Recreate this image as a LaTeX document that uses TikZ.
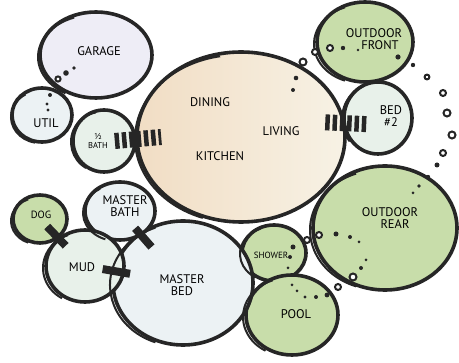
\documentclass[tikz,border=0pt]{standalone}
\usepackage{fontspec}
\setmainfont{PT Sans}
\usetikzlibrary{shapes.geometric,calc}
\definecolor{ink}{HTML}{262626}
\definecolor{cream}{HTML}{F7F2E5}
\definecolor{peach}{HTML}{F1DDC4}
\definecolor{grn}{HTML}{C8DDAA}
\definecolor{lav}{HTML}{EEEDF6}
\definecolor{paleb}{HTML}{ECF2F4}
\definecolor{paleg}{HTML}{E8F1EA}
\tikzset{
  bubble/.style={ellipse, draw=ink, line width=3.6pt, inner sep=0pt},
  sketch/.style={draw=ink, line width=2pt},
  lab/.style={font=\fontsize{12.5}{12}\selectfont, text=black, align=center, inner sep=0pt},
  smalllab/.style={font=\fontsize{8.5}{9.5}\selectfont, text=black, align=center, inner sep=0pt},
  bar/.style={draw=ink, line width=8pt},
  hatch/.style={draw=ink, line width=16pt, dash pattern=on 4.5pt off 2.8pt},
  dotf/.style={fill=ink},
  ringd/.style={draw=ink, fill=white, line width=2pt}
}
\begin{document}
\begin{tikzpicture}[x=1pt,y=-1pt]
\useasboundingbox (0,0) rectangle (459,363);
% main room first
\node[bubble, left color=peach, middle color=cream, right color=cream, minimum width=208pt, minimum height=170pt] (main) at (241,137) {};
\foreach \n/\x/\y/\rx/\ry/\c in {
  garage/96/55/56/43/lav,
  util/42/115/30/27/paleb,
  hbath/104/141/31/31/paleg,
  ofront/365/42/48/40/grn,
  bed2/378/118/34/36/paleg,
  orear/385/228/72/62/grn,
  shower/274/253/32/28/grn,
  pool/292/315/46/40/grn,
  mbed/183/283/70/62/paleb,
  mbath/120/211/35/29/paleb,
  mud/85/266/39/36/paleg,
  dog/40/219/27/24/grn}
{
  \node[bubble, fill=\c, minimum width={(2*\rx)*1pt}, minimum height={(2*\ry)*1pt}] (\n) at (\x,\y) {};
}
% sketchy second strokes
\foreach \n/\dx/\dy/\rx/\ry/\a/\b in {
  main/-3/2/103/84/110/260,
  garage/-3/2/55/42/120/250,
  util/-2/2/29/26/100/240,
  hbath/-3/1/30/30/120/260,
  ofront/-4/2/47/39/110/250,
  bed2/-3/1/33/35/140/250,
  orear/-5/2/70/60/110/250,
  shower/-3/1/31/27/120/250,
  pool/-4/2/45/39/120/250,
  mbed/-4/2/69/61/110/250,
  mbath/-3/2/34/28/110/240,
  mud/-4/2/38/35/120/250,
  dog/-3/2/26/23/110/250}
{
  \draw[sketch] ([shift={(\dx,\dy)}]\n.center) ++({\rx*cos(\a)},{\ry*sin(\a)}) arc[start angle=\a, end angle=\b, x radius=\rx, y radius=\ry];
}
% labels
\node[lab] (tgarage) at (99,51) {GARAGE};
\node[lab] (tutil) at (46,123) {UTIL};
\node[smalllab] (thbath) at (98,141) {½\\BATH};
\node[lab] (tdining) at (210,102) {DINING};
\node[lab] (tliving) at (281,131) {LIVING};
\node[lab] (tkitchen) at (220,156) {KITCHEN};
\node[lab] (tofront) at (374,39) {OUTDOOR\\\hspace*{12pt}FRONT};
\node[lab] (tbed2) at (391,116) {BED\\\#2};
\node[lab] (torear) at (390,218) {OUTDOOR\\\hspace*{10pt}REAR};
\node[smalllab, font=\fontsize{9}{10}\selectfont] (tshower) at (271,255) {SHOWER};
\node[lab] (tpool) at (296,314) {POOL};
\node[lab] (tmbed) at (182,285) {MASTER\\BED};
\node[lab] (tmbath) at (125,206) {MASTER\\BATH};
\node[lab] (tmud) at (82,267) {MUD};
\node[smalllab, font=\fontsize{10.5}{11}\selectfont] (tdog) at (41,215) {DOG};
% direct adjacency: bars
\draw[bar] ($(mbath.center)!0.24!(mbed.center)$) -- ($(mbath.center)!0.5!(mbed.center)$);
\draw[bar] ($(mud.center)!0.18!(mbed.center)$) -- ($(mud.center)!0.46!(mbed.center)$);
\draw[bar] ($(dog.center)!0.16!(mud.center)$) -- ($(dog.center)!0.57!(mud.center)$);
% hatched adjacencies
\draw[hatch] ([xshift=-22pt]hbath.east) -- ([xshift=26pt]main.west);
\draw[hatch] ([xshift=-20pt]main.8) -- ([xshift=26pt]bed2.190);
% dotted relationships
\foreach \px/\py/\r in {74/68/1.8, 66/73/2.8, 50/95/2, 47/104/1.6, 48/110/1.6,
  296/78/2.3, 293/90/2, 343/48/2.2, 358/50/1.3, 398/57/2.6,
  413/65/2.2, 437/165/2.5, 428/177/2.2, 419/186/1.8, 413/193/1.5,
  336/234/2.5, 350/237/2, 359/242/1.5, 293/247/2.5, 290/257/2, 288/268/1.5,
  292/285/1.5, 297/291/1.5, 305/297/1.6, 316/297/2, 327/295/2.4, 361/268/2, 366/260/1.5}
{ \fill[dotf] (\px,\py) circle[radius=\r]; }
\foreach \px/\py/\r in {58/79/2.6, 303/62/3.5, 315/52/3, 330/48/3,
  427/77/2.4, 443/93/3, 447/113/3.5, 452/135/3.5, 443/153/3,
  307/240/3, 319/235/3, 338/287/3, 353/277/3.5}
{ \draw[ringd] (\px,\py) circle[radius=\r]; }
\end{tikzpicture}
\end{document}
